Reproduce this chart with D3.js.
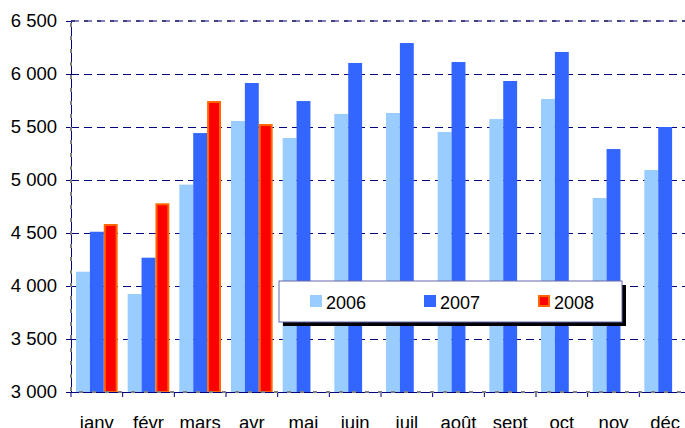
<!DOCTYPE html>
<html>
<head>
<meta charset="utf-8">
<script src="https://cdn.jsdelivr.net/npm/d3@7"></script>
<style>
  body { margin: 0; background: #fff; overflow: hidden; }
  text { font-family: Arial, "Liberation Sans", sans-serif; }
</style>
</head>
<body>
<div id="chart"></div>
<script>
const months = ['janv', 'févr', 'mars', 'avr', 'mai', 'juin', 'juil', 'août', 'sept', 'oct', 'nov', 'déc'];
const years = ['2006', '2007', '2008'];
const v2006 = [4135, 3925, 4956, 5557, 5396, 5623, 5632, 5453, 5575, 5764, 4830, 5094];
const v2007 = [4512, 4267, 5443, 5915, 5745, 6104, 6292, 6113, 5934, 6208, 5292, 5500];
const v2008 = [4585, 4780, 5745, 5528];
const yTicks = [3000, 3500, 4000, 4500, 5000, 5500, 6000, 6500];

const colors = { '2006': '#99ccff', '2007': '#3366ff', '2008': '#ff0000' };

const width = 685, height = 428;
const margin = { top: 21, right: -6, bottom: 36, left: 71 };

const svg = d3.select('#chart').append('svg')
  .attr('width', width)
  .attr('height', height);

const x = d3.scaleBand().domain(months).range([margin.left, width - margin.right]);
const xs = d3.scaleBand().domain(years).range([5, x.bandwidth() - 5]);
const y = d3.scaleLinear().domain([3000, 6500]).range([height - margin.bottom, margin.top]);

const fmt = d3.formatLocale({ thousands: ' ', grouping: [3], decimal: ',', currency: ['', ''] }).format(',');

// gridlines
svg.append('g')
  .selectAll('line')
  .data(yTicks.slice(1, -1))
  .enter().append('line')
  .attr('x1', margin.left).attr('x2', width - margin.right)
  .attr('y1', d => Math.round(y(d)) + 0.5).attr('y2', d => Math.round(y(d)) + 0.5)
  .attr('stroke', '#000080')
  .attr('stroke-width', 1)
  .attr('stroke-dasharray', '8,5');

// bars
const rows = [];
months.forEach((m, i) => {
  rows.push({ m: m, yr: '2006', v: v2006[i] });
  rows.push({ m: m, yr: '2007', v: v2007[i] });
  if (v2008[i] !== undefined) rows.push({ m: m, yr: '2008', v: v2008[i] });
});

svg.append('g')
  .selectAll('rect')
  .data(rows)
  .enter().append('rect')
  .attr('x', d => x(d.m) + xs(d.yr) + (d.yr === '2008' ? 1 : 0))
  .attr('width', d => xs.bandwidth() - (d.yr === '2008' ? 2 : 0))
  .attr('y', d => y(d.v) + (d.yr === '2008' ? 1 : 0))
  .attr('height', d => y(3000) - y(d.v) - (d.yr === '2008' ? 1 : 0))
  .attr('fill', d => colors[d.yr])
  .attr('stroke', d => d.yr === '2008' ? '#ff6600' : 'none')
  .attr('stroke-width', 2);

// y axis
const yAxis = d3.axisLeft(y).tickValues(yTicks).tickSize(5).tickFormat(fmt);
const gy = svg.append('g')
  .attr('transform', 'translate(' + margin.left + ',0)')
  .call(yAxis);
gy.select('.domain').attr('stroke', '#000080');
gy.selectAll('.tick line').attr('stroke', '#000080');
gy.selectAll('.tick text')
  .attr('x', -14)
  .attr('font-size', 18.5)
  .attr('font-family', 'Arial, "Liberation Sans", sans-serif')
  .attr('fill', '#000');

// x axis
const xAxis = d3.axisBottom(x).tickSize(0).tickPadding(24);
const gx = svg.append('g')
  .attr('transform', 'translate(0,' + y(3000) + ')')
  .call(xAxis);
gx.select('.domain').attr('stroke', '#000080');
gx.selectAll('.tick text')
  .attr('font-size', 18.5)
  .attr('font-family', 'Arial, "Liberation Sans", sans-serif')
  .attr('fill', '#000');

// category boundary ticks
svg.append('g')
  .selectAll('line')
  .data(months)
  .enter().append('line')
  .attr('x1', d => x(d)).attr('x2', d => x(d))
  .attr('y1', y(3000)).attr('y2', y(3000) + 5)
  .attr('stroke', '#000080');

// plot area border (dashed grey)
svg.append('rect')
  .attr('x', margin.left).attr('y', margin.top)
  .attr('width', width - margin.right - margin.left)
  .attr('height', y(3000) - margin.top)
  .attr('fill', 'none')
  .attr('stroke', '#808080')
  .attr('stroke-width', 2)
  .attr('stroke-dasharray', '4,9');
svg.append('line')
  .attr('x1', margin.left).attr('x2', width)
  .attr('y1', margin.top).attr('y2', margin.top)
  .attr('stroke', '#000080').attr('stroke-width', 1)
  .attr('stroke-dasharray', '8,5');

// legend
const lg = svg.append('g').attr('transform', 'translate(279,281)');
lg.append('rect').attr('x', 4).attr('y', 4).attr('width', 343).attr('height', 41).attr('fill', '#000');
lg.append('rect').attr('x', 0).attr('y', 0).attr('width', 343).attr('height', 41)
  .attr('fill', '#fff').attr('stroke', '#6666aa').attr('stroke-width', 1);
const item = lg.selectAll('g.item')
  .data(years)
  .enter().append('g')
  .attr('class', 'item')
  .attr('transform', (d, i) => 'translate(' + (31 + i * 114) + ',0)');
item.append('rect')
  .attr('x', d => d === '2008' ? 1 : 0)
  .attr('y', d => d === '2008' ? 15 : 14)
  .attr('width', d => d === '2008' ? 10 : 12)
  .attr('height', d => d === '2008' ? 10 : 12)
  .attr('fill', d => colors[d])
  .attr('stroke', d => d === '2008' ? '#ff6600' : 'none')
  .attr('stroke-width', 2);
item.append('text')
  .attr('x', 16)
  .attr('y', 28)
  .attr('font-size', 18)
  .text(d => d);
</script>
</body>
</html>
